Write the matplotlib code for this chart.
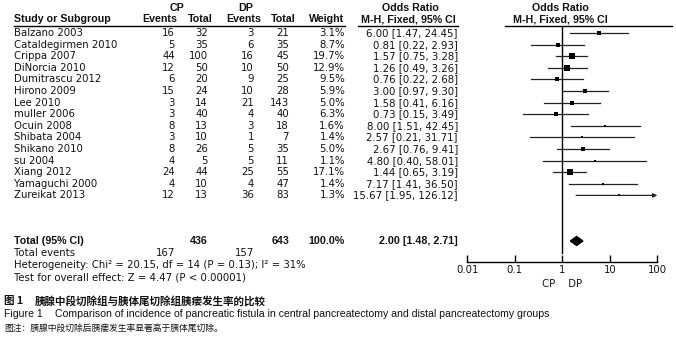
import matplotlib
matplotlib.use("Agg")
import matplotlib.pyplot as plt
from matplotlib.patches import Polygon

studies = ["Balzano 2003", "Cataldegirmen 2010", "Crippa 2007", "DiNorcia 2010",
           "Dumitrascu 2012", "Hirono 2009", "Lee 2010", "muller 2006", "Ocuin 2008",
           "Shibata 2004", "Shikano 2010", "su 2004", "Xiang 2012", "Yamaguchi 2000",
           "Zureikat 2013"]
cp_events = [16, 5, 44, 12, 6, 15, 3, 3, 8, 3, 8, 4, 24, 4, 12]
cp_total = [32, 35, 100, 50, 20, 24, 14, 40, 13, 10, 26, 5, 44, 10, 13]
dp_events = [3, 6, 16, 10, 9, 10, 21, 4, 3, 1, 5, 5, 25, 4, 36]
dp_total = [21, 35, 45, 50, 25, 28, 143, 40, 18, 7, 35, 11, 55, 47, 83]
weights = [3.1, 8.7, 19.7, 12.9, 9.5, 5.9, 5.0, 6.3, 1.6, 1.4, 5.0, 1.1, 17.1, 1.4, 1.3]
odds = [6.00, 0.81, 1.57, 1.26, 0.76, 3.00, 1.58, 0.73, 8.00, 2.57, 2.67, 4.80, 1.44, 7.17, 15.67]
ci_low = [1.47, 0.22, 0.75, 0.49, 0.22, 0.97, 0.41, 0.15, 1.51, 0.21, 0.76, 0.40, 0.65, 1.41, 1.95]
ci_high = [24.45, 2.93, 3.28, 3.26, 2.68, 9.30, 6.16, 3.49, 42.45, 31.71, 9.41, 58.01, 3.19, 36.50, 126.12]
total_cp, total_dp = 436, 643
events_cp, events_dp = 167, 157
pooled = (2.00, 1.48, 2.71)
xticks = [0.01, 0.1, 1, 10, 100]
xtick_labels = ["0.01", "0.1", "1", "10", "100"]

W, H = 676, 345
fig = plt.figure(figsize=(W / 100, H / 100), dpi=100)
fig.patch.set_facecolor("white")

bg = fig.add_axes([0, 0, 1, 1])
bg.set_xlim(0, W)
bg.set_ylim(H, 0)
bg.axis("off")

REG = "DejaVu Sans"
BOLD = "Liberation Sans"
FS = 7.3
FSB = 7.7
TC = "#111111"

def t(x, y, s, ha="left", bold=False, size=None, family=None, color=TC, weight=None):
    if family is None:
        family = BOLD if bold else REG
    if size is None:
        size = FSB if bold else FS
    bg.text(x, y, s, ha=ha, va="center", fontsize=size, family=family,
            fontweight=weight or ("bold" if bold else "normal"), color=color)

# headers
t(177, 8, "CP", ha="center", bold=True)
t(246, 8, "DP", ha="center", bold=True)
t(410, 8, "Odds Ratio", ha="center", bold=True)
t(560, 8, "Odds Ratio", ha="center", bold=True)
t(14, 19, "Study or Subgroup", bold=True)
t(177, 19, "Events", ha="right", bold=True)
t(213, 19, "Total", ha="right", bold=True)
t(261, 19, "Events", ha="right", bold=True)
t(296, 19, "Total", ha="right", bold=True)
t(344, 19, "Weight", ha="right", bold=True)
t(408, 19, "M-H, Fixed, 95% CI", ha="center", bold=True)
t(560, 19, "M-H, Fixed, 95% CI", ha="center", bold=True)
for x0, x1 in [(14, 345), (358, 458), (505, 672)]:
    bg.plot([x0, x1], [25.5, 25.5], color="black", lw=1.0)

y0, dy = 33, 11.6
rows_y = [y0 + i * dy for i in range(len(studies))]
for i, yy in enumerate(rows_y):
    t(14, yy, studies[i])
    t(175, yy, str(cp_events[i]), ha="right")
    t(208, yy, str(cp_total[i]), ha="right")
    t(254, yy, str(dp_events[i]), ha="right")
    t(289, yy, str(dp_total[i]), ha="right")
    t(345, yy, f"{weights[i]:.1f}%", ha="right")
    t(458, yy, f"{odds[i]:.2f} [{ci_low[i]:.2f}, {ci_high[i]:.2f}]", ha="right")

ty = 241
t(14, ty, "Total (95% CI)", bold=True)
t(208, ty, str(total_cp), ha="right", bold=True)
t(289, ty, str(total_dp), ha="right", bold=True)
t(345, ty, "100.0%", ha="right", bold=True)
t(458, ty, f"{pooled[0]:.2f} [{pooled[1]:.2f}, {pooled[2]:.2f}]", ha="right", bold=True)
t(14, 253, "Total events")
t(175, 253, str(events_cp), ha="right")
t(254, 253, str(events_dp), ha="right")
t(14, 265, "Heterogeneity: Chi² = 20.15, df = 14 (P = 0.13); I² = 31%")
t(14, 277, "Test for overall effect: Z = 4.47 (P < 0.00001)")

CJK = ["Noto Sans CJK SC", "DejaVu Sans"]
t(4, 301, "图 1", family=CJK, size=7.6, weight="bold")
t(35, 301, "胰腺中段切除组与胰体尾切除组胰瘘发生率的比较", family=CJK, size=7.6, weight="bold")
t(4, 314, "Figure 1", family="Liberation Sans", size=7.6)
t(55, 314, "Comparison of incidence of pancreatic fistula in central pancreatectomy and distal pancreatectomy groups",
  family="Liberation Sans", size=7.6)
t(4, 328, "图注：胰腺中段切除后胰瘘发生率显著高于胰体尾切除。", family=CJK, size=6.3)

# forest axes: x from 467 (0.01) to 657 (100) px
xl, xr = 467.3, 657.3
ax = fig.add_axes([xl / W, 0, (xr - xl) / W, 1])
ax.patch.set_alpha(0)
ax.set_xscale("log")
ax.set_xlim(0.01, 100)
ax.set_ylim(H, 0)
for s in ["top", "left", "right"]:
    ax.spines[s].set_visible(False)
ax.spines["bottom"].set_position(("data", 262))
ax.spines["bottom"].set_linewidth(1.0)
ax.set_xticks(xticks)
ax.set_xticklabels(xtick_labels, fontsize=FS, family=REG, color=TC)
ax.minorticks_off()
ax.tick_params(axis="x", direction="in", length=5, width=1.0, pad=2)
ax.set_yticks([])

ax.plot([1, 1], [25.5, 253], color="black", lw=1.0)

LC = "#222222"
for i, yy in enumerate(rows_y):
    hi = ci_high[i]
    if hi > 100:
        ax.annotate("", xy=(100, yy), xytext=(ci_low[i], yy),
                    arrowprops=dict(arrowstyle="-|>", color=LC, lw=0.9,
                                    mutation_scale=6, shrinkA=0, shrinkB=0),
                    annotation_clip=False)
    else:
        ax.plot([ci_low[i], hi], [yy, yy], color=LC, lw=0.9, clip_on=False)
    side = 1.0 + weights[i] ** 0.5 * 1.25
    ax.plot([odds[i]], [yy], marker="s", color="black", ms=side * 0.72,
            mew=0, clip_on=False)

ax.add_patch(Polygon([(pooled[1], ty), (pooled[0], ty - 4.5), (pooled[2], ty),
                      (pooled[0], ty + 4.5)], closed=True, color="black"))

bg.text(562, 284, "CP    DP", ha="center", va="center", fontsize=FS, family=REG, color=TC)

fig.savefig("out.png", dpi=100)
